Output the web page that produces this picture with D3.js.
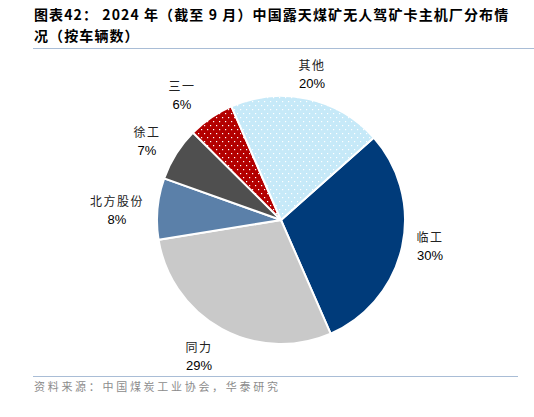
<!DOCTYPE html>
<html>
<head>
<meta charset="utf-8">
<script src="https://cdn.jsdelivr.net/npm/d3@7"></script>
<style>
  body { margin: 0; background: #fff; }
  svg { display: block; }
</style>
</head>
<body>
<div id="chart"></div>
<script>
//chart data
let makers = ["临工", "同力", "北方股份", "徐工", "三一", "其他"];
let shares = [30, 29, 8, 7, 6, 20];
let shareLabels = ["30%", "29%", "8%", "7%", "6%", "20%"];
let fills = ["#003b7a", "#c9c9c9", "#5b80a9", "#4f4f4f", "url(#dotRed)", "url(#dotBlue)"];

//label positions (centre of the two text lines)
let labelPos = [[430, 238], [199, 348], [117, 202], [147, 133], [182, 87], [312, 66]];

let svgWidth = 534;
let svgHeight = 417;
let cx = 281, cy = 220, radius = 124;

let svg = d3.select("#chart")
    .append("svg")
    .attr("width", svgWidth)
    .attr("height", svgHeight);

//dot patterns for the hatched slices
let defs = svg.append("defs");
function addDots(id, bg) {
    let p = defs.append("pattern")
        .attr("id", id)
        .attr("patternUnits", "userSpaceOnUse")
        .attr("width", 6)
        .attr("height", 8);
    p.append("rect").attr("width", 6).attr("height", 8).attr("fill", bg);
    p.append("rect").attr("x", 1).attr("y", 1).attr("width", 1.2).attr("height", 1.2).attr("fill", "#fff");
    p.append("rect").attr("x", 4).attr("y", 5).attr("width", 1.2).attr("height", 1.2).attr("fill", "#fff");
}
addDots("dotRed", "#b30000");
addDots("dotBlue", "#c6e9f8");

//title
svg.append("text").attr("x", 34).attr("y", 20)
    .style("font", "bold 14px 'Noto Sans CJK SC', sans-serif").attr("fill", "#000")
    .style("letter-spacing", "1.1px")
    .text("图表42： 2024 年（截至 9 月）中国露天煤矿无人驾矿卡主机厂分布情");
svg.append("text").attr("x", 34).attr("y", 41)
    .style("font", "bold 14px 'Noto Sans CJK SC', sans-serif").attr("fill", "#000")
    .style("letter-spacing", "1.1px")
    .text("况（按车辆数）");

svg.append("line").attr("x1", 33).attr("x2", 534).attr("y1", 48.5).attr("y2", 48.5)
    .attr("stroke", "#a9bdd6").attr("stroke-width", 1);

//pie
let startA = 48.4 * Math.PI / 180;
let pie = d3.pie().sort(null).value(function(d) { return d; })
    .startAngle(startA).endAngle(startA + 2 * Math.PI);
let arc = d3.arc().innerRadius(0).outerRadius(radius);

let g = svg.append("g").attr("transform", "translate(" + cx + "," + cy + ")");
g.selectAll("path")
    .data(pie(shares))
    .enter()
    .append("path")
    .attr("d", arc)
    .attr("fill", function(d, i) { return fills[i]; })
    .attr("stroke", "#fff")
    .attr("stroke-width", 2);

//labels
let labels = svg.selectAll("g.lab")
    .data(makers)
    .enter()
    .append("g")
    .attr("class", "lab")
    .attr("transform", function(d, i) { return "translate(" + labelPos[i][0] + "," + labelPos[i][1] + ")"; });
labels.append("text")
    .attr("text-anchor", "middle").attr("y", 4)
    .style("font", "12px 'Noto Sans CJK SC', sans-serif").attr("fill", "#222")
    .style("letter-spacing", "1.5px")
    .text(function(d) { return d; });
labels.append("text")
    .attr("text-anchor", "middle").attr("y", 22)
    .style("font", "13px 'Liberation Sans', Arial, sans-serif").attr("fill", "#000")
    .text(function(d, i) { return shareLabels[i]; });

//source
svg.append("line").attr("x1", 33).attr("x2", 518).attr("y1", 376.5).attr("y2", 376.5)
    .attr("stroke", "#a9bdd6").attr("stroke-width", 1);
svg.append("text").attr("x", 34).attr("y", 391)
    .style("font", "11px 'Noto Sans CJK SC', sans-serif").attr("fill", "#8c8c8c")
    .style("letter-spacing", "2.7px")
    .text("资料来源：中国煤炭工业协会，华泰研究");
</script>
</body>
</html>
